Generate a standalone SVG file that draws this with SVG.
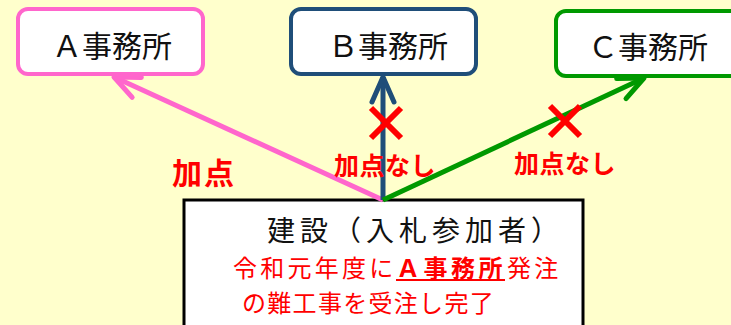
<svg xmlns="http://www.w3.org/2000/svg" width="731" height="325" viewBox="0 0 731 325">
<style>
.box{fill:#ffffff;stroke-width:4}
.lbl{font-family:"Noto Sans CJK JP","Noto Sans",sans-serif;font-size:30px;fill:#111111;text-anchor:middle}
.red{font-family:"Noto Sans CJK JP","Noto Sans",sans-serif;fill:#ff0000}
.bold{font-weight:bold}
.conn{fill:none;stroke-width:5}
.x{stroke:#ff0000;stroke-width:6;stroke-linecap:butt}
</style>
<defs>
<marker id="mp" markerUnits="userSpaceOnUse" orient="auto" markerWidth="40" markerHeight="40" refX="0" refY="0" viewBox="-30 -20 40 40" overflow="visible"><path d="M -25 -11 L 0 0 L -25 11" fill="none" stroke="#ff66cc" stroke-width="5" stroke-linecap="round" stroke-linejoin="round"/></marker>
<marker id="mb" markerUnits="userSpaceOnUse" orient="auto" markerWidth="40" markerHeight="40" refX="0" refY="0" viewBox="-30 -20 40 40" overflow="visible"><path d="M -25 -11 L 0 0 L -25 11" fill="none" stroke="#1f4e79" stroke-width="5" stroke-linecap="round" stroke-linejoin="round"/></marker>
<marker id="mg" markerUnits="userSpaceOnUse" orient="auto" markerWidth="40" markerHeight="40" refX="0" refY="0" viewBox="-30 -20 40 40" overflow="visible"><path d="M -25 -11 L 0 0 L -25 11" fill="none" stroke="#009900" stroke-width="5" stroke-linecap="round" stroke-linejoin="round"/></marker>
</defs>
<rect x="0" y="0" width="731" height="325" fill="#ffffcc"/>
<g id="nodeA">
<rect class="box" x="18" y="9" width="185" height="65" rx="10" stroke="#ff66cc"/>
<text class="lbl" x="112" y="57">Ａ事務所</text>
</g>
<g id="nodeB">
<rect class="box" x="291" y="9" width="185" height="65" rx="10" stroke="#1f4e79"/>
<text class="lbl" x="388" y="57">Ｂ事務所</text>
</g>
<g id="nodeC">
<rect class="box" x="556" y="11" width="200" height="65" rx="10" stroke="#009900"/>
<text class="lbl" x="648" y="58">Ｃ事務所</text>
</g>
<g id="nodeMain">
<rect x="184" y="200" width="399" height="140" fill="#ffffff" stroke="#000000" stroke-width="3"/>
<text x="267" y="240.5" font-family="'Noto Sans CJK JP','Noto Sans',sans-serif" font-size="28" fill="#111111" letter-spacing="5">建設（入札参加者）</text>
<text class="red" x="233" y="277" font-size="24" letter-spacing="3.25">令和元年度に</text>
<text class="red bold" x="396" y="277" font-size="24" letter-spacing="3.5">Ａ事務所</text>
<line x1="396" y1="280" x2="505" y2="280" stroke="#ff0000" stroke-width="2"/>
<text class="red" x="507" y="277" font-size="24" letter-spacing="3.25">発注</text>
<text class="red" x="242" y="312" font-size="24" letter-spacing="1.3">の難工事を受注し完了</text>
</g>
<g id="connectors">
<line class="conn" x1="383" y1="200" x2="114" y2="77" stroke="#ff66cc" marker-end="url(#mp)"/>
<line class="conn" x1="383" y1="200" x2="383" y2="77" stroke="#1f4e79" marker-end="url(#mb)"/>
<line class="conn" x1="383" y1="200" x2="644" y2="78" stroke="#009900" marker-end="url(#mg)"/>
</g>
<g id="labels">
<text class="red bold" x="172" y="184" font-size="30" letter-spacing="2">加点</text>
<text class="red bold" x="334" y="175" font-size="25" letter-spacing="0.5">加点なし</text>
<text class="red bold" x="514" y="173" font-size="25" letter-spacing="0.5">加点なし</text>
<path class="x" d="M371 108 L401 138 M401 108 L371 138"/>
<path class="x" d="M550 106 L580 136 M580 106 L550 136"/>
</g>
</svg>
